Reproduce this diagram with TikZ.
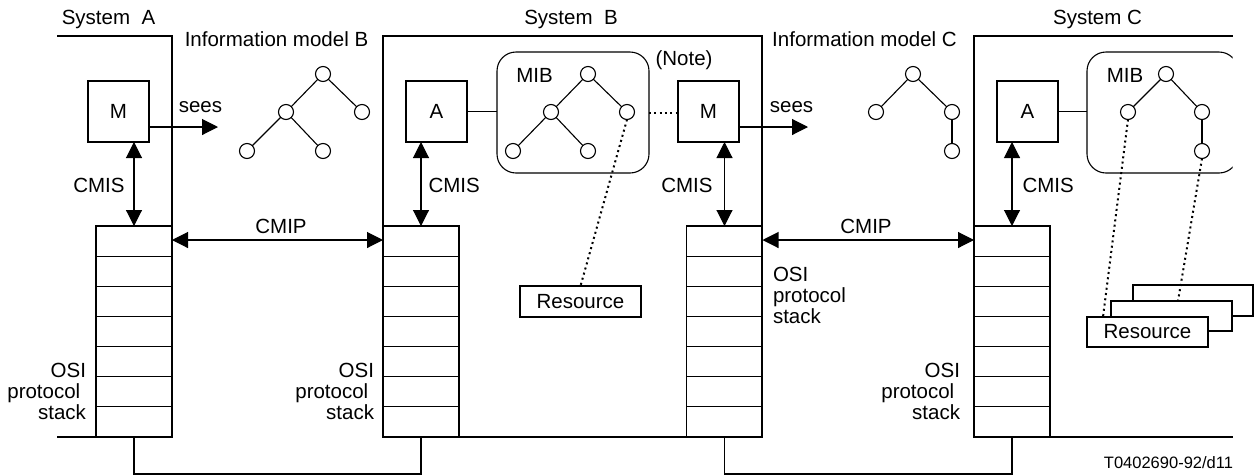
\documentclass[tikz,border=0pt]{standalone}
\usepackage{fontspec}
\setmainfont{Liberation Sans}
\usetikzlibrary{arrows.meta,calc}
\begin{document}
\begin{tikzpicture}[x=1pt,y=-1pt, line width=1.1pt,
  every node/.style={font=\fontsize{20.5}{21}\selectfont, inner sep=0pt, outer sep=0pt},
  box/.style={draw, minimum width=61pt, minimum height=61pt, fill=white},
  obj/.style={draw, circle, minimum size=15pt, fill=white},
  lbl/.style={text height=14.7pt, text depth=0pt},
  stk/.style={draw, minimum width=76pt, minimum height=211pt},
  res/.style={draw, fill=white, minimum width=121pt, minimum height=30pt},
  mib/.style={draw, rounded corners=19pt, minimum height=121pt},
  arr/.style={-{Triangle[length=16pt,width=16pt]}},
  darr/.style={{Triangle[length=16pt,width=16pt]}-{Triangle[length=16pt,width=16pt]}},
  dots/.style={line width=2pt, dash pattern=on 2pt off 3.3pt},
  osi/.style={font=\fontsize{20.5}{21}\selectfont},
]
\useasboundingbox (0,0) rectangle (1254,475);

% system frames
\draw (57,36) -- (172,36) -- (172,437) -- (57,437);
\draw (383,36) rectangle (762,437);
\draw (1232.5,36) -- (974,36) -- (974,437) -- (1232.5,437);

% titles
\node[lbl] (tSA) at (108.5,16.7) {System\ \ A};
\node[lbl] (tSB) at (571,16.7) {System\ \ B};
\node[lbl] (tSC) at (1097.5,16.7) {System C};
\node[lbl] (tIB) at (276.5,39.6) {Information model B};
\node[lbl] (tIC) at (864.5,39.6) {Information model C};

% stacks
\node[stk] (SA) at (134,331.5) {};
\node[stk] (SB) at (421,331.5) {};
\node[stk] (SB2) at (724.5,331.5) {};
\node[stk] (SC) at (1012,331.5) {};
\foreach \s in {SA,SB,SB2,SC}
  \foreach \i in {1,...,6}
    \draw ($(\s.north west)!\i/7!(\s.south west)$) -- ($(\s.north east)!\i/7!(\s.south east)$);

% manager / agent boxes
\node[box] (MA) at (118.5,111.5) {M};
\node[box] (AB) at (436.5,111.5) {A};
\node[box] (MB) at (708.5,111.5) {M};
\node[box] (AC) at (1027.5,111.5) {A};

% sees arrows
\coordinate (sA) at (218,127);
\coordinate (sB) at (808,127);
\draw[arr] (MA.east |- sA) -- (sA);
\draw[arr] (MB.east |- sB) -- (sB);
\node[lbl] (seesA) at (200.5,104.7) {sees};
\node[lbl] (seesB) at (791.5,104.7) {sees};

% CMIS arrows
\draw[darr] (SA.north) -- (SA.north |- MA.south);
\draw[darr] (SB.north) -- (SB.north |- AB.south);
\draw[darr] (SB2.north) -- (SB2.north |- MB.south);
\draw[darr] (SC.north) -- (SC.north |- AC.south);
\node[lbl, anchor=east] (cmisA) at (124.5,184.7) {CMIS};
\node[lbl, anchor=west] (cmisB) at (428.5,184.7) {CMIS};
\node[lbl, anchor=east] (cmisB2) at (712.5,184.7) {CMIS};
\node[lbl, anchor=west] (cmisC) at (1022.5,184.7) {CMIS};

% CMIP arrows
\draw[darr] ($(SA.north east)+(0,14)$) -- ($(SB.north west)+(0,14)$);
\draw[darr] ($(SB2.north east)+(0,14)$) -- ($(SC.north west)+(0,14)$);
\node[lbl] (cmip1) at (281,225.7) {CMIP};
\node[lbl] (cmip2) at (866,225.7) {CMIP};

% bottom links
\draw (SA.south) -- ++(0,37) -| (SB.south);
\draw (SB2.south) -- ++(0,37) -| (SC.south);

% OSI labels
\node[osi, align=right, anchor=north east] (osiA) at (86,363) {OSI\\protocol\kern5.7pt\\stack};
\node[osi, align=right, anchor=north east] (osiB) at (374,363) {OSI\\protocol\kern5.7pt\\stack};
\node[osi, align=left, anchor=north west] (osiB2) at (773,267) {OSI\\protocol\\stack};
\node[osi, align=right, anchor=north east] (osiC) at (960,363) {OSI\\protocol\kern5.7pt\\stack};

% Information model B tree
\node[obj] (tb1) at (323,74) {};
\node[obj] (tb2) at (286,112) {};
\node[obj] (tb3) at (362,112) {};
\node[obj] (tb4) at (247,151) {};
\node[obj] (tb5) at (323,151) {};
\draw (tb1) -- (tb2); \draw (tb1) -- (tb3); \draw (tb2) -- (tb4); \draw (tb2) -- (tb5);

% Information model C tree
\node[obj] (tc1) at (913,74) {};
\node[obj] (tc2) at (876,112) {};
\node[obj] (tc3) at (952,112) {};
\node[obj] (tc4) at (952,151) {};
\draw (tc1) -- (tc2); \draw (tc1) -- (tc3); \draw (tc3) -- (tc4);

% MIB B
\node[mib, minimum width=152pt] (mibB) at (573,112.5) {};
\node[lbl] (mibBl) at (534.5,74.7) {MIB};
\node[lbl] (note) at (684,57.7) {(Note)};
\node[obj] (mb1) at (588,74) {};
\node[obj] (mb2) at (551,112) {};
\node[obj] (mb3) at (627,112) {};
\node[obj] (mb4) at (513,151) {};
\node[obj] (mb5) at (588,151) {};
\draw (mb1) -- (mb2); \draw (mb1) -- (mb3); \draw (mb2) -- (mb4); \draw (mb2) -- (mb5);
\draw (AB.east) -- (AB.east -| mibB.west);
\draw[dots] (mibB.east) -- (mibB.east -| MB.west);

% Resource B
\node[res, minimum height=31pt] (RB) at (580.5,301.5) {Resource};
\draw[dots] (mb3.south) -- (RB.north);

% MIB C (clipped at right)
\begin{scope}
  \clip (0,0) rectangle (1232.5,475);
  \node[mib, minimum width=151pt] (mibC) at (1162.5,112.5) {};
\end{scope}
\node[lbl] (mibCl) at (1125,74.7) {MIB};
\node[obj] (mc1) at (1166,74) {};
\node[obj] (mc2) at (1128,112) {};
\node[obj] (mc3) at (1202,112) {};
\node[obj] (mc4) at (1202,151) {};
\draw (mc1) -- (mc2); \draw (mc1) -- (mc3); \draw (mc3) -- (mc4);
\draw (AC.east) -- (AC.east -| mibC.west);

% Resources C
\node[res, minimum width=120pt, minimum height=31pt] (RC3) at (1193,300.5) {};
\node[res] (RC2) at (1171.5,316) {};
\node[res] (RC1) at (1147.5,332) {Resource};
\draw[dots] (mc2.south) -- ($(RC1.north west)+(16,0)$);
\draw[dots] (mc4.south) -- ($(RC2.north west)+(67,0)$);

% figure id
\node[anchor=east, font=\fontsize{16.5}{18}\selectfont, text height=12pt, text depth=0pt] (fid) at (1233,462) {T0402690-92/d11};
\end{tikzpicture}
\end{document}
